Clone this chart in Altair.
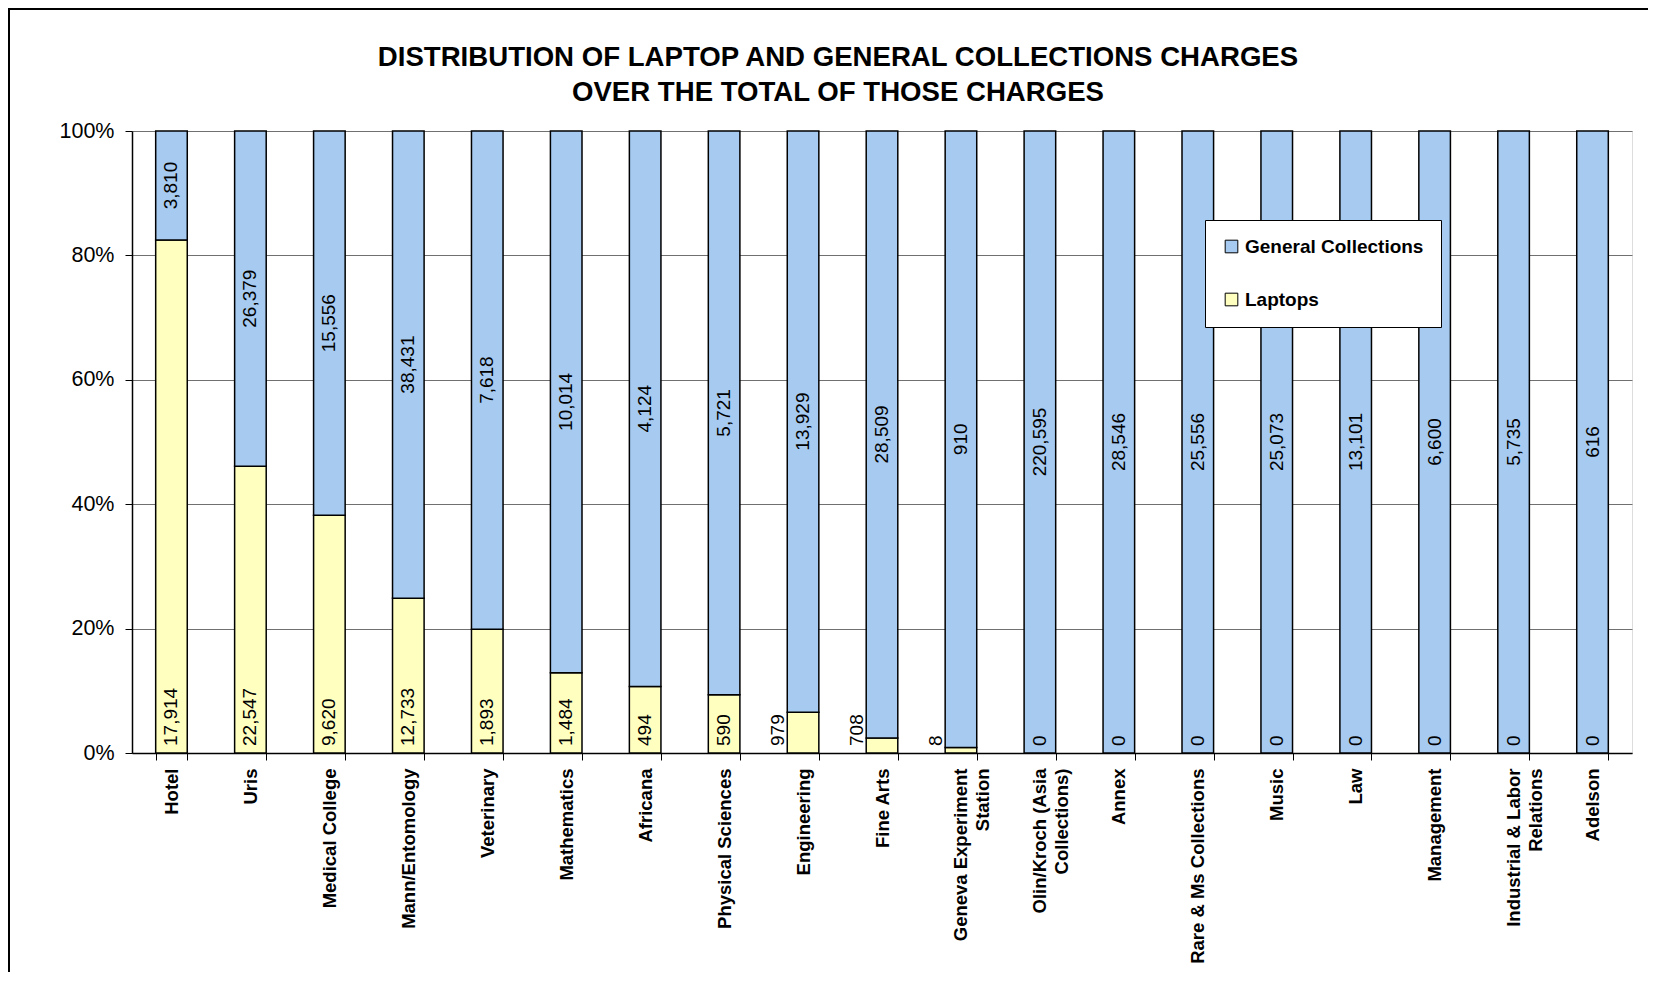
import altair as alt
import pandas as pd

# ---- data ----
categories = [
    "Hotel", "Uris", "Medical College", "Mann/Entomology", "Veterinary",
    "Mathematics", "Africana", "Physical Sciences", "Engineering", "Fine Arts",
    "Geneva Experiment\nStation", "Olin/Kroch (Asia\nCollections)", "Annex",
    "Rare & Ms Collections", "Music", "Law", "Management",
    "Industrial & Labor\nRelations", "Adelson",
]
laptops = [17914, 22547, 9620, 12733, 1893, 1484, 494, 590, 979, 708, 8,
           0, 0, 0, 0, 0, 0, 0, 0]
general = [3810, 26379, 15556, 38431, 7618, 10014, 4124, 5721, 13929, 28509,
           910, 220595, 28546, 25556, 25073, 13101, 6600, 5735, 616]
series_names = ["General Collections", "Laptops"]
series_colors = ["#A6CAF0", "#FFFFC0"]
y_ticks = [0, 0.2, 0.4, 0.6, 0.8, 1.0]
title_lines = ["DISTRIBUTION OF LAPTOP AND GENERAL COLLECTIONS CHARGES",
               "OVER THE TOTAL OF THOSE CHARGES"]

FONT = "Liberation Sans"

long_df = pd.DataFrame({
    "library": categories * 2,
    "series": ["Laptops"] * len(categories) + ["General Collections"] * len(categories),
    "charges": laptops + general,
})
wide_df = pd.DataFrame({"library": categories, "laptops": laptops, "general": general})

x_enc = alt.X(
    "library:N", sort=categories,
    scale=alt.Scale(paddingInner=0.6, paddingOuter=0.3),
    axis=alt.Axis(
        title=None, labelAngle=270, labelAlign="right", labelBaseline="middle",
        labelFont=FONT, labelFontWeight="bold", labelFontSize=18.5, labelColor="black",
        labelPadding=8, labelLimit=0, labelExpr="split(datum.label, '\\n')",
        labelLineHeight=22, tickBand="extent", ticks=True, tickSize=7,
        tickColor="black", tickWidth=1, domainColor="black", domainWidth=1.5, grid=False,
    ),
)

bars = alt.Chart(long_df).transform_calculate(
    ord="datum.series == 'Laptops' ? 0 : 1"
).mark_bar(stroke="black", strokeWidth=1.5).encode(
    x=x_enc,
    y=alt.Y(
        "charges:Q", stack="normalize", scale=alt.Scale(domain=[0, 1]),
        axis=alt.Axis(
            title=None, values=y_ticks, format="%", labelFont=FONT, labelFontSize=21.5,
            labelColor="black", labelPadding=11, tickSize=7, tickColor="black",
            domainColor="black", domainWidth=1.5, grid=True, gridColor="#707070",
            gridWidth=1,
        ),
    ),
    color=alt.Color(
        "series:N",
        scale=alt.Scale(domain=series_names, range=series_colors),
        legend=alt.Legend(
            title=None, orient="none", legendX=1073, legendY=89, direction="vertical",
            fillColor="white", strokeColor="black", padding=17, symbolType="square",
            symbolSize=160, symbolStrokeColor="black", symbolStrokeWidth=1,
            symbolOpacity=1, labelFont=FONT, labelFontWeight="bold",
            labelFontSize=19, labelColor="black", labelOffset=4, rowPadding=33,
            labelLimit=0,
        ),
    ),
    order=alt.Order("ord:Q", sort="ascending"),
)

lab_base = alt.Chart(wide_df).transform_calculate(
    total="datum.laptops + datum.general",
    lap_frac="datum.laptops / (datum.laptops + datum.general)",
).transform_calculate(
    gen_mid="datum.lap_frac + (1 - datum.lap_frac) / 2"
)

text_style = dict(font=FONT, fontSize=19, color="black", angle=270, baseline="middle")

gen_labels = lab_base.mark_text(align="center", **text_style).encode(
    x=alt.X("library:N", sort=categories),
    y=alt.Y("gen_mid:Q"),
    text=alt.Text("general:Q", format=","),
)

lap_inside = lab_base.transform_filter(
    "datum.lap_frac >= 0.08 || datum.laptops == 0"
).mark_text(align="left", dx=7, **text_style).encode(
    x=alt.X("library:N", sort=categories),
    y=alt.datum(0),
    text=alt.Text("laptops:Q", format=","),
)

lap_outside = lab_base.transform_filter(
    "datum.lap_frac < 0.08 && datum.laptops > 0"
).mark_text(align="left", dx=7, dy=-25, **text_style).encode(
    x=alt.X("library:N", sort=categories),
    y=alt.datum(0),
    text=alt.Text("laptops:Q", format=","),
)

frame = alt.Chart(pd.DataFrame({"f": [0]})).mark_rect(
    fill="transparent", stroke="black", strokeWidth=2
).encode(
    x=alt.value(-123), x2=alt.value(3000), y=alt.value(-122), y2=alt.value(3000)
)

chart = alt.layer(bars, gen_labels, lap_inside, lap_outside, frame).properties(
    width=1500, height=622,
    title=alt.Title(
        text=title_lines, font=FONT, fontSize=27.6, fontWeight="bold", color="black",
        lineHeight=35, anchor="middle", frame="group", dx=-44, dy=99, offset=0,
    ),
    autosize=alt.AutoSizeParams(type="none"),
    padding={"left": 124, "top": 123, "right": 16, "bottom": 219},
).configure_view(stroke="#808080", strokeWidth=1).configure(background="white")

chart.save("out.html", embed_options={"renderer": "svg", "actions": False})
